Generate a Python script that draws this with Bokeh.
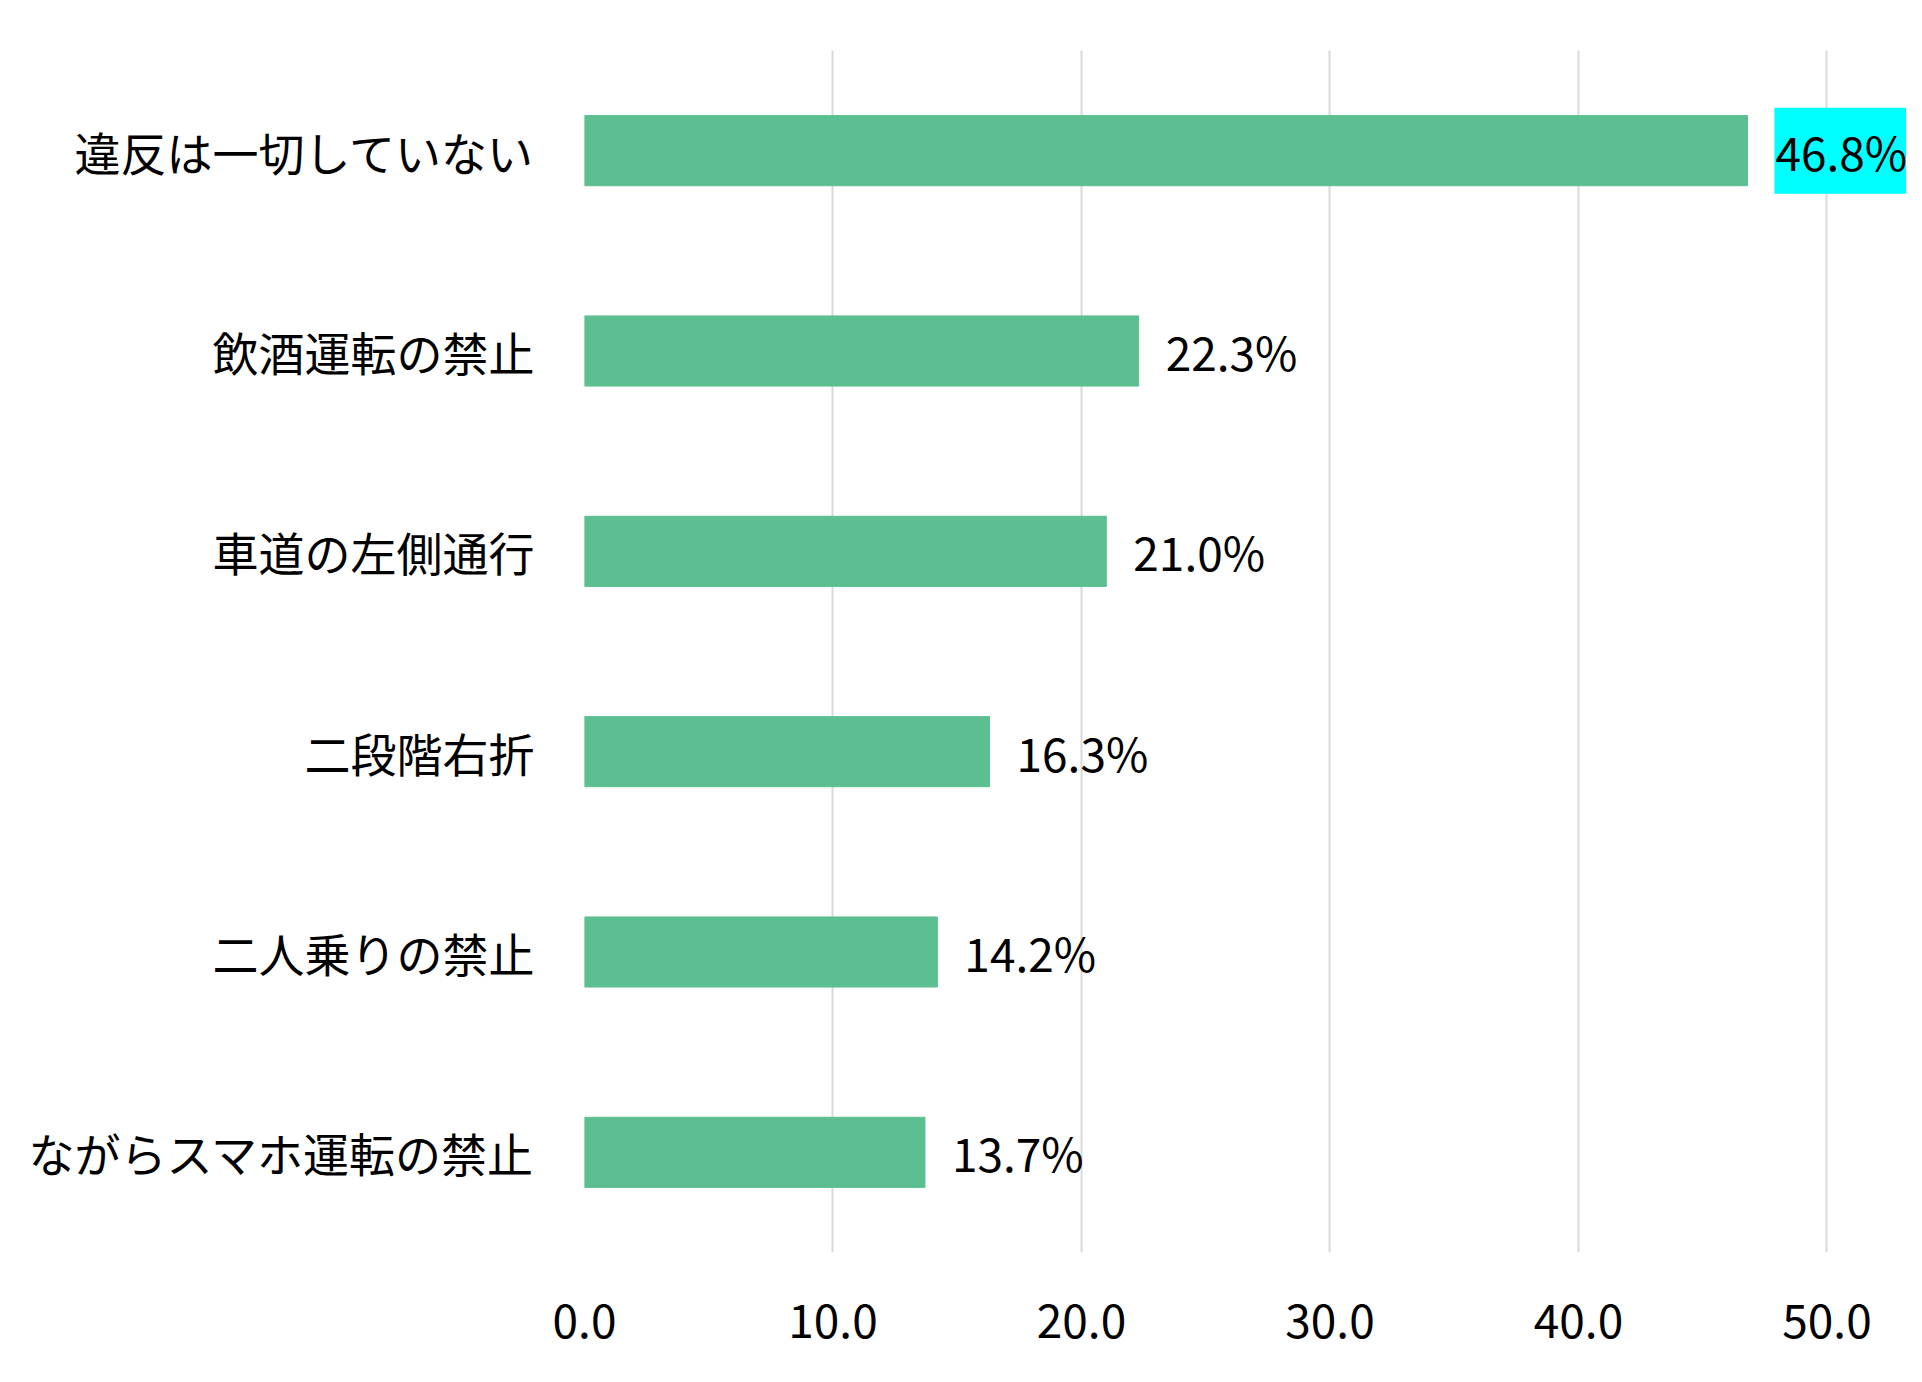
from bokeh.plotting import figure
from bokeh.models import ColumnDataSource, Range1d, FixedTicker, NumeralTickFormatter
from bokeh.core.properties import value
from bokeh.embed import file_html
from bokeh.resources import INLINE

# data, top to bottom as in the chart
categories = ["違反は一切していない", "飲酒運転の禁止", "車道の左側通行",
              "二段階右折", "二人乗りの禁止", "ながらスマホ運転の禁止"]
values = [46.8, 22.3, 21.0, 16.3, 14.2, 13.7]
x_ticks = [0, 10, 20, 30, 40, 50]

FONT = "Noto Sans CJK JP"
BAR_COLOR = "#5cbf91"

labels = [f"{v:.1f}%" for v in values]
source = ColumnDataSource(data=dict(cat=categories, val=values, label=labels))
top_source = ColumnDataSource(data=dict(cat=categories[:1], val=values[:1], label=labels[:1]))
rest_source = ColumnDataSource(data=dict(cat=categories[1:], val=values[1:], label=labels[1:]))

p = figure(
    y_range=list(reversed(categories)),
    x_range=Range1d(0, 53.2),
    width=1906,
    height=1366,
    output_backend="svg",
    toolbar_location=None,
    min_border_left=584,
    min_border_right=0,
    min_border_top=50,
    min_border_bottom=114,
)

p.hbar(y="cat", right="val", left=0, height=0.35, color=BAR_COLOR, source=source)

p.text(x="val", y="cat", text="label", source=rest_source,
       x_offset=27, y_offset=0, text_align="left", text_baseline="middle",
       text_font=value(FONT), text_font_size="46px", text_color="black")

# highlighted label for the top bar (padding is left, right, top, bottom)
p.text(x="val", y="cat", text="label", source=top_source,
       x_offset=27, y_offset=0, text_align="left", text_baseline="middle",
       text_font=value(FONT), text_font_size="46px", text_color="black",
       background_fill_color="#00ffff", padding=[1, 2, 10, 10])

p.outline_line_color = None
p.ygrid.grid_line_color = None
p.xgrid.grid_line_color = "#d9d9d9"
p.xgrid.grid_line_width = 2

p.xaxis.ticker = FixedTicker(ticks=x_ticks)
p.xaxis.formatter = NumeralTickFormatter(format="0.0")
for ax in (p.xaxis, p.yaxis):
    ax.axis_line_color = None
    ax.major_tick_line_color = None
    ax.minor_tick_line_color = None
    ax.major_label_text_font = FONT
    ax.major_label_text_font_size = "46px"
    ax.major_label_text_color = "black"

p.xaxis.major_label_standoff = 45
p.yaxis.major_label_standoff = 44

open("out.html", "w").write(file_html(p, INLINE))
